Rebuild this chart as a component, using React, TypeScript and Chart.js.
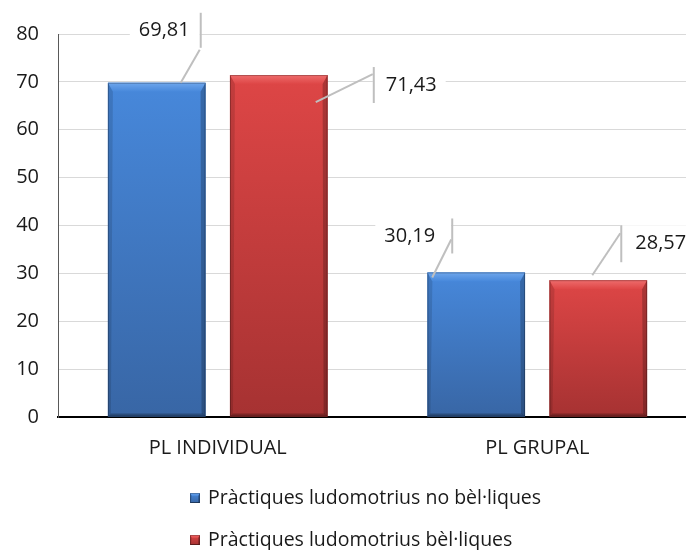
import React, { useEffect, useRef } from "react";
import { Chart, registerables } from "chart.js";

Chart.register(...registerables);

// ---------- data ----------
const categories = ["PL INDIVIDUAL", "PL GRUPAL"];
const seriesNames = [
  "Pràctiques ludomotrius no bèl·liques",
  "Pràctiques ludomotrius bèl·liques",
];
const noBelliquesValues = [69.81, 30.19];
const belliquesValues = [71.43, 28.57];
const yMin = 0;
const yMax = 80;
const yStep = 10;

// ---------- styles ----------
const FONT = "'Open Sans', 'Noto Sans', sans-serif";
const SERIES_STYLE = [
  { top: "#4788db", bottom: "#3866a5", light: "#6ea6ec", dark: "#27508a" },
  { top: "#de4646", bottom: "#a63232", light: "#ee6c6c", dark: "#7a2222" },
];
// label leader geometry, relative to the top-centre of each bar (pixels)
const LABEL_STYLE = [
  [
    { start: [24, 0], elbow: [43, -33], edge: [-70, -35], side: -1, gap: 10 },
    { start: [-44, 5], elbow: [-25, -33], edge: [-54, -19], side: -1, gap: 16 },
  ],
  [
    { start: [37, 27], elbow: [94, -1], edge: [-8, 28], side: 1, gap: 13 },
    { start: [-6, -5], elbow: [22, -47], edge: [-55, -18], side: 1, gap: 15 },
  ],
];

const fmt = (v: number) => v.toFixed(2).replace(".", ",");

function barGradient(ctx: CanvasRenderingContext2D, top: number, bottom: number, s: any) {
  const g = ctx.createLinearGradient(0, top, 0, bottom);
  g.addColorStop(0, s.top);
  g.addColorStop(1, s.bottom);
  return g;
}

function drawBevelBox(ctx: CanvasRenderingContext2D, x0: number, y0: number, x1: number, y1: number, s: any, big: boolean) {
  const bt = big ? 9 : 3;
  const bi = big ? 5 : 2;
  const sw = big ? 3 : 1;
  ctx.save();
  ctx.fillStyle = barGradient(ctx, y0, y1, s);
  ctx.fillRect(x0, y0, x1 - x0, y1 - y0);
  const tg = ctx.createLinearGradient(0, y0, 0, y0 + bt);
  tg.addColorStop(0, s.light);
  tg.addColorStop(1, s.top);
  ctx.fillStyle = tg;
  ctx.beginPath();
  ctx.moveTo(x0, y0);
  ctx.lineTo(x1, y0);
  ctx.lineTo(x1 - bi, y0 + bt);
  ctx.lineTo(x0 + bi, y0 + bt);
  ctx.closePath();
  ctx.fill();
  ctx.fillStyle = "rgba(0,0,0,0.12)";
  ctx.beginPath();
  ctx.moveTo(x0, y0);
  ctx.lineTo(x0 + bi, y0 + bt);
  ctx.lineTo(x0 + sw, y1 - sw);
  ctx.lineTo(x0, y1);
  ctx.closePath();
  ctx.fill();
  ctx.fillStyle = "rgba(0,0,0,0.22)";
  ctx.beginPath();
  ctx.moveTo(x1, y0);
  ctx.lineTo(x1 - bi, y0 + bt);
  ctx.lineTo(x1 - sw - 1, y1 - sw);
  ctx.lineTo(x1, y1);
  ctx.closePath();
  ctx.fill();
  ctx.fillStyle = "rgba(0,0,0,0.25)";
  ctx.beginPath();
  ctx.moveTo(x0, y1);
  ctx.lineTo(x0 + sw, y1 - sw);
  ctx.lineTo(x1 - sw, y1 - sw);
  ctx.lineTo(x1, y1);
  ctx.closePath();
  ctx.fill();
  ctx.strokeStyle = "rgba(0,0,0,0.25)";
  ctx.lineWidth = 1;
  ctx.strokeRect(x0 + 0.5, y0 + 0.5, x1 - x0 - 1, y1 - y0 - 1);
  ctx.restore();
}

const bevelPlugin = {
  id: "bevelBars",
  afterDatasetsDraw(chart: any) {
    const ctx = chart.ctx;
    chart.data.datasets.forEach((ds: any, di: number) => {
      const meta = chart.getDatasetMeta(di);
      meta.data.forEach((bar: any) => {
        const { x, y, base, width } = bar.getProps(["x", "y", "base", "width"], true);
        drawBevelBox(ctx, x - width / 2, y, x + width / 2, base, SERIES_STYLE[di], true);
      });
    });
  },
};

const labelPlugin = {
  id: "leaderLabels",
  afterDatasetsDraw(chart: any) {
    const ctx = chart.ctx;
    ctx.save();
    ctx.font = `20px ${FONT}`;
    chart.data.datasets.forEach((ds: any, di: number) => {
      const meta = chart.getDatasetMeta(di);
      meta.data.forEach((bar: any, i: number) => {
        const L = LABEL_STYLE[di][i];
        const { x, y } = bar.getProps(["x", "y"], true);
        const text = fmt(ds.data[i]);
        const tw = ctx.measureText(text).width;
        const ex = x + L.elbow[0];
        const eTop = y + L.edge[0];
        const eBot = y + L.edge[1];
        const boxW = tw + L.gap + 9;
        const bx = L.side < 0 ? ex - boxW : ex;
        ctx.fillStyle = "#ffffff";
        ctx.fillRect(bx, eTop, boxW, eBot - eTop);
        ctx.strokeStyle = "#bfbfbf";
        ctx.lineWidth = 2;
        ctx.beginPath();
        ctx.moveTo(x + L.start[0], y + L.start[1]);
        ctx.lineTo(ex, y + L.elbow[1]);
        ctx.stroke();
        ctx.beginPath();
        ctx.moveTo(ex + 1, eTop);
        ctx.lineTo(ex + 1, eBot);
        ctx.stroke();
        ctx.fillStyle = "#1a1a1a";
        ctx.textBaseline = "middle";
        ctx.textAlign = L.side < 0 ? "right" : "left";
        ctx.fillText(text, ex + L.side * L.gap, (eTop + eBot) / 2);
      });
    });
    ctx.restore();
  },
};

const legendPlugin = {
  id: "stackedLegend",
  afterDraw(chart: any) {
    const ctx = chart.ctx;
    ctx.save();
    ctx.font = `19.5px ${FONT}`;
    ctx.textBaseline = "middle";
    ctx.textAlign = "left";
    const left = 190;
    const rows = [498, 540];
    chart.data.datasets.forEach((ds: any, di: number) => {
      const cy = rows[di];
      drawBevelBox(ctx, left, cy - 5, left + 10, cy + 5, SERIES_STYLE[di], false);
      ctx.fillStyle = "#1a1a1a";
      ctx.fillText(ds.label, left + 18, cy);
    });
    ctx.restore();
  },
};

export default function App() {
  const ref = useRef<HTMLCanvasElement | null>(null);
  useEffect(() => {
    document.body.style.margin = "0";
    const canvas = ref.current!;
    const chart = new Chart(canvas, {
      type: "bar",
      data: {
        labels: categories,
        datasets: [
          { label: seriesNames[0], data: noBelliquesValues, backgroundColor: SERIES_STYLE[0].top },
          { label: seriesNames[1], data: belliquesValues, backgroundColor: SERIES_STYLE[1].top },
        ],
      },
      options: {
        animation: false,
        responsive: false,
        devicePixelRatio: 1,
        layout: { padding: { top: 34, right: 0, bottom: 83, left: 0 } },
        datasets: { bar: { categoryPercentage: 0.764, barPercentage: 0.8 } },
        plugins: { legend: { display: false }, tooltip: { enabled: false } },
        scales: {
          x: {
            grid: { display: false, drawTicks: false },
            border: { color: "#000000", width: 2 },
            ticks: { color: "#1a1a1a", font: { family: FONT, size: 20 }, padding: 19 },
            afterFit: (s: any) => { s.height = 50; },
          },
          y: {
            min: yMin,
            max: yMax,
            ticks: { stepSize: yStep, color: "#1a1a1a", font: { family: FONT, size: 20 }, padding: 19 },
            grid: { color: "#d9d9d9", drawTicks: false },
            border: { color: "#595959", width: 1 },
            afterFit: (s: any) => { s.width = 58; },
          },
        },
      },
      plugins: [bevelPlugin, labelPlugin, legendPlugin],
    });
    return () => chart.destroy();
  }, []);
  return (
    <div style={{ width: 686, height: 550, overflow: "hidden", background: "#ffffff" }}>
      <canvas ref={ref} width={697} height={550} style={{ display: "block" }} />
    </div>
  );
}
